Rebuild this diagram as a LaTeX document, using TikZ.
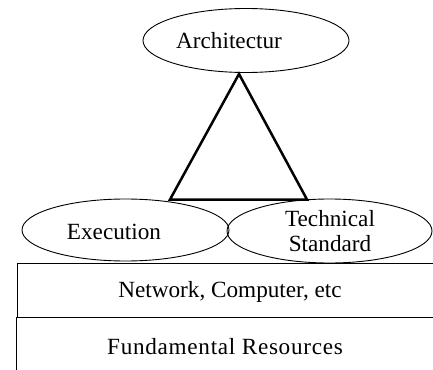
\documentclass[tikz,border=0pt]{standalone}
\usepackage{fontspec}
\setmainfont{Liberation Serif}
\usetikzlibrary{shapes.geometric}
\begin{document}
\begin{tikzpicture}[x=1pt,y=-1pt,
  oval/.style={draw,ellipse,line width=0.9pt,inner sep=0pt},
  lbl/.style={font=\fontsize{23.2}{25}\selectfont,inner sep=0pt,align=center},
  layer/.style={draw,line width=0.9pt}]
\useasboundingbox (0,0) rectangle (433,369);
\clip (0,0) rectangle (433,369);
% layers
\draw[layer] (17,263) rectangle (445,317);
\draw[layer] (16,317) rectangle (445,385);
\node[lbl] (net) at (230,292) {Network, Computer, etc};
\node[lbl,font=\fontsize{23.2}{25}\selectfont\addfontfeature{LetterSpace=3}] (fund) at (225,347) {Fundamental Resources};
% ellipses
\node[oval,minimum width=206pt,minimum height=64pt] (arch) at (246,40.5) {};
\node[oval,minimum width=207pt,minimum height=62pt] (exec) at (125.5,230) {};
\node[oval,minimum width=205pt,minimum height=64pt] (tech) at (329.5,231) {};
\node[lbl] (archt) at (229,41) {Architectur};
\node[lbl] (exect) at (114,232) {Execution};
\node[lbl] (techt) at (330,231) {Technical\\Standard};
% triangle
\coordinate (apex) at (239,74);
\coordinate (bl) at (170,199.5);
\coordinate (br) at (307,199.5);
\draw[line width=2.5pt,line join=miter] (apex) -- (bl) -- (br) -- cycle;
\end{tikzpicture}
\end{document}
